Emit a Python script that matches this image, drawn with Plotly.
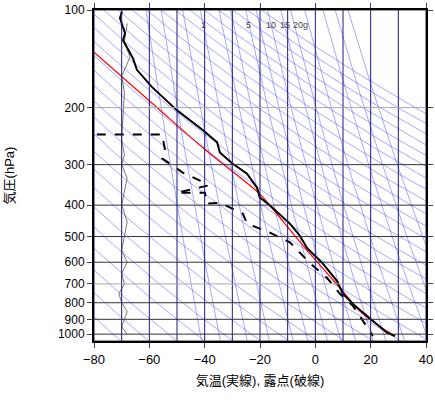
import numpy as np
import plotly.graph_objects as go

# sounding
temp_p = [101, 106, 118, 124, 141, 153, 173, 204, 235, 256, 275, 297, 320, 353, 379,
          401, 456, 497, 542, 607, 685, 751, 818, 892, 990, 1013]
temp_t = [-69.9, -70.6, -68.8, -69.5, -65.9, -64.5, -59.0, -50.0, -40.6, -35.5, -34.5,
          -30.1, -24.7, -21.1, -20.0, -16.4, -9.2, -5.6, -3.0, 2.8, 7.8, 10.0, 14.3,
          19.7, 25.9, 28.8]
dew_p = [242, 242, 271, 287, 318, 336, 348, 366, 366, 396, 393, 425, 456, 486, 521,
         574, 603, 670, 751, 818, 910, 1013]
dew_t = [-79, -55.4, -54.3, -55.4, -47.8, -41.7, -38.8, -50.0, -39.9, -39.2, -34.5,
         -26.2, -24.7, -16.4, -9.2, -4.5, -2.0, 4.2, 8.9, 13.6, 17.2, 20.8]
parcel_p = [135, 194, 269, 370, 401, 532, 720, 866, 1013]
parcel_t = [-80, -59, -40, -20, -16.4, -4.5, 8.9, 17.2, 28.8]

# wind staff positions
wind_p = [110, 125, 140, 160, 180, 250, 280, 300, 330, 360, 400, 450, 500, 550, 600,
          650, 700, 750, 800, 850, 900, 950, 1000]
wind_t = [-68, -69, -67, -70, -69, -70, -69, -70, -68, -69, -70, -68, -69, -70, -68,
          -70, -69, -71, -70, -68, -69, -70, -68]

mix_ratios = [0.1, 0.2, 0.5, 1, 2, 3, 5, 7, 10, 15, 20, 30, 50, 70, 100]
thetas = list(range(200, 500, 10))
p_ticks = [100, 200, 300, 400, 500, 600, 700, 800, 900, 1000]

fig = go.Figure()
pp = np.geomspace(100, 1050, 60)
blue = "rgba(60,60,255,0.75)"

for th in thetas:
    fig.add_trace(go.Scatter(x=th * (pp / 1000) ** 0.286 - 273.15, y=pp, mode="lines",
                             line=dict(color=blue, width=0.6), hoverinfo="skip"))
for w in mix_ratios:
    e = w * pp / (622 + w)
    l = np.log(e / 6.112)
    fig.add_trace(go.Scatter(x=243.5 * l / (17.67 - l), y=pp, mode="lines",
                             line=dict(color=blue, width=0.6), hoverinfo="skip"))

for t in range(-80, 41, 10):
    fig.add_vline(x=t, line=dict(color="#1a1a80", width=1))
for p in p_ticks + [1050]:
    fig.add_hline(y=p, line=dict(color="#aaaaaa" if p in (200, 700) else "#333333", width=1))

fig.add_trace(go.Scatter(x=wind_t, y=wind_p, mode="lines", line=dict(color="#555", width=0.8)))
fig.add_trace(go.Scatter(x=parcel_t, y=parcel_p, mode="lines",
                         line=dict(color="red", width=1.2, shape="spline")))
fig.add_trace(go.Scatter(x=temp_t, y=temp_p, mode="lines", line=dict(color="black", width=2)))
fig.add_trace(go.Scatter(x=dew_t, y=dew_p, mode="lines",
                         line=dict(color="black", width=2, dash="dash")))

for lab, t in [("1", -40.5), ("5", -24), ("10", -16), ("15", -11), ("20g", -5.5)]:
    fig.add_annotation(x=t, y=np.log10(111), text=lab, showarrow=False,
                       font=dict(size=9, color="#444"))

fig.update_layout(
    width=435, height=412, showlegend=False, plot_bgcolor="white", paper_bgcolor="white",
    margin=dict(l=94, r=9, t=10, b=71, autoexpand=False),
    font=dict(family="Liberation Sans, Noto Sans CJK JP", size=12, color="black"),
)
fig.update_xaxes(range=[-80, 40], tickvals=list(range(-80, 41, 20)), ticks="outside",
                 mirror="ticks", showline=True, linecolor="black", linewidth=2,
                 showgrid=False, zeroline=False, tickfont=dict(size=13),
                 ticklabeloverflow="allow",
                 title=dict(text="気温(実線), 露点(破線)", font=dict(size=13, color="black"),
                            standoff=10))
fig.update_yaxes(type="log", range=[np.log10(1050), 2], tickvals=p_ticks,
                 ticktext=[str(p) for p in p_ticks], ticks="outside", mirror="ticks",
                 showline=True, linecolor="black", linewidth=2, showgrid=False,
                 zeroline=False, tickfont=dict(size=12), ticklabeloverflow="allow",
                 title=dict(text="気圧(hPa)", font=dict(size=13, color="black"), standoff=40))

fig.write_html("out.html", config={"displayModeBar": False},
               post_script="document.body.style.margin='0';")
